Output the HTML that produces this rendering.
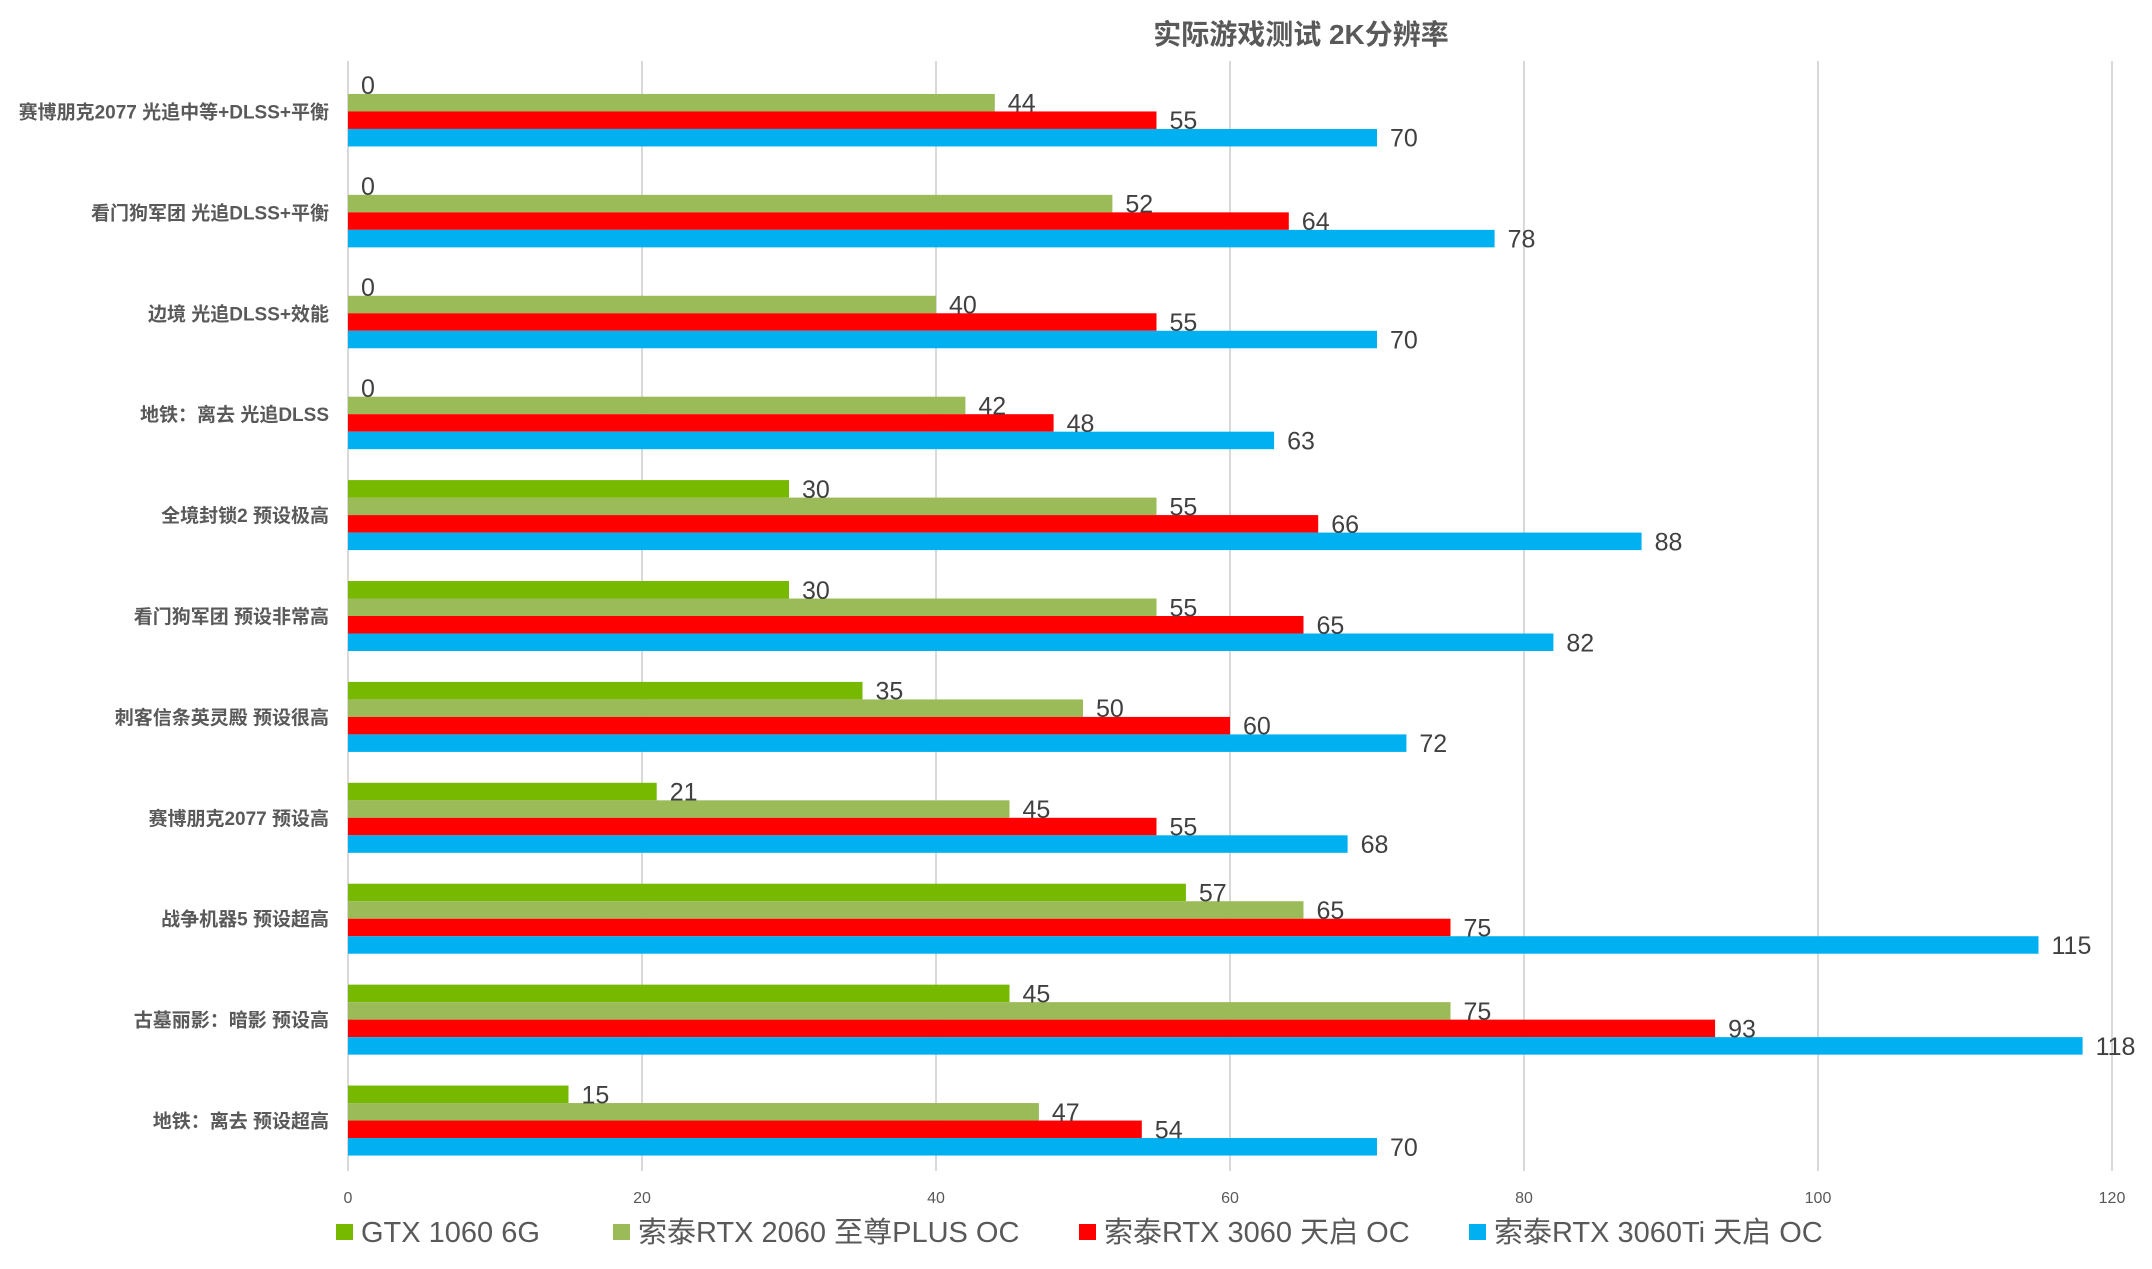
<!DOCTYPE html>
<html><head><meta charset="utf-8"><style>
html,body{margin:0;padding:0;background:#fff;}
svg{display:block;font-family:"Liberation Sans","Noto Sans CJK SC",sans-serif;}
</style></head><body>
<svg id="chart" width="2152" height="1269" viewBox="0 0 2152 1269" xmlns="http://www.w3.org/2000/svg">
<text x="1301" y="44" text-anchor="middle" font-size="28" font-weight="bold" fill="#595959">实际游戏测试 2K分辨率</text>
<g id="grid"></g><g id="bars"></g><g id="labels"></g><g id="cats"></g><g id="ticks"></g><g id="legend"></g>
</svg>
<script>
const categories = ["赛博朋克2077 光追中等+DLSS+平衡","看门狗军团 光追DLSS+平衡","边境 光追DLSS+效能","地铁：离去 光追DLSS","全境封锁2 预设极高","看门狗军团 预设非常高","刺客信条英灵殿 预设很高","赛博朋克2077 预设高","战争机器5 预设超高","古墓丽影：暗影 预设高","地铁：离去  预设超高"];
const seriesNames = ["GTX 1060 6G","索泰RTX 2060 至尊PLUS OC","索泰RTX 3060 天启 OC","索泰RTX 3060Ti 天启 OC"];
const gtx1060 = [0,0,0,0,30,30,35,21,57,45,15];
const rtx2060 = [44,52,40,42,55,55,50,45,65,75,47];
const rtx3060 = [55,64,55,48,66,65,60,55,75,93,54];
const rtx3060ti = [70,78,70,63,88,82,72,68,115,118,70];
const tickValues = [0,20,40,60,80,100,120];
const colors = ["#76b900","#9bbb59","#ff0000","#00b0f0"];
const series = [gtx1060,rtx2060,rtx3060,rtx3060ti];

const NS="http://www.w3.org/2000/svg";
const X0=348, X1=2112, Y0=61, Y1=1171, MAX=120;
const xs=v=>X0+(v/MAX)*(X1-X0);
const band=(Y1-Y0)/categories.length, barH=17.5, pad=(band-barH*4)/2;
function mk(tag,attrs,parent,txt){const e=document.createElementNS(NS,tag);for(const k in attrs)e.setAttribute(k,attrs[k]);if(txt!==undefined)e.textContent=txt;document.getElementById(parent).appendChild(e);return e;}

tickValues.forEach(t=>{
  const g=mk('line',{x1:xs(t),x2:xs(t),y1:Y0,y2:Y1,stroke:'#d9d9d9','stroke-width':2},'grid');
  
  
  const l=mk('text',{x:xs(t),y:1203,'text-anchor':'middle','font-size':16,fill:'#595959'},'ticks',String(t));
  
  
});
categories.forEach((c,i)=>{
  const top=Y0+i*band;
  const cl=mk('text',{x:329,y:top+band/2+7,'text-anchor':'end','font-size':19,'font-weight':'bold',fill:'#595959'},'cats',c);
  
  
  series.forEach((s,j)=>{
    const y=top+pad+j*barH, v=s[i];
    const r=mk('rect',{x:X0,y:y,width:Math.max(0,xs(v)-X0),height:barH,fill:colors[j]},'bars');
    
    
    const t=mk('text',{x:xs(v)+13,y:y+barH/2+9,'font-size':25,fill:'#404040'},'labels',String(v));
    
    
  });
});
const legX=[336,613,1079,1469];
seriesNames.forEach((n,j)=>{
  const sq=mk('rect',{x:legX[j],y:1224,width:17,height:16,fill:colors[j]},'legend');
  
  
  const t=mk('text',{x:legX[j]+25,y:1242,'font-size':29,fill:'#595959'},'legend',n);
  
  
});
</script>
</body></html>
